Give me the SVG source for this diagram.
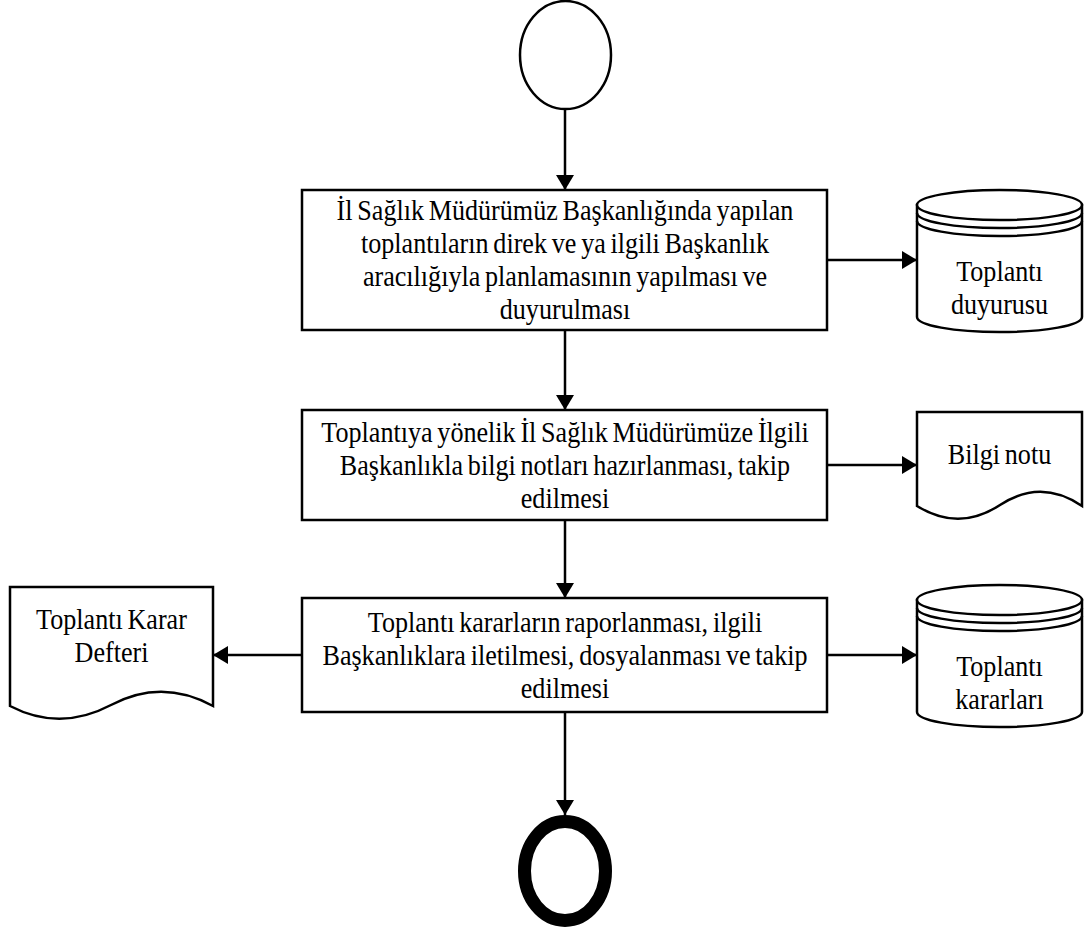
<svg xmlns="http://www.w3.org/2000/svg" width="1084" height="930" viewBox="0 0 1084 930">
<style>
.s{fill:#fff;stroke:#000;stroke-width:2.5}
.c{fill:none;stroke:#000;stroke-width:2.5}
.t{font-family:"Liberation Serif","Times New Roman",serif;font-size:30px;fill:#000;text-anchor:middle;word-spacing:-2px}
</style>
<defs>
<marker id="ah" viewBox="0 0 15 18" refX="15" refY="9" markerWidth="15" markerHeight="18" markerUnits="userSpaceOnUse" orient="auto">
<path d="M0,0 L15,9 L0,18 Z" fill="#000"/>
</marker>
</defs>
<rect width="1084" height="930" fill="#fff"/>
<g id="connectors" class="c" marker-end="url(#ah)">
<line x1="565" y1="109" x2="565" y2="190"/>
<line x1="565" y1="330" x2="565" y2="410"/>
<line x1="565" y1="520" x2="565" y2="598"/>
<line x1="565" y1="712" x2="565" y2="815"/>
<line x1="827" y1="260" x2="917" y2="260"/>
<line x1="827" y1="465" x2="917" y2="465"/>
<line x1="827" y1="655" x2="917" y2="655"/>
<line x1="302" y1="655" x2="213" y2="655"/>
</g>
<g id="start"><ellipse class="s" cx="565.5" cy="55" rx="45.5" ry="54"/></g>
<g id="box1">
<rect class="s" x="302" y="190" width="525" height="140"/>
<text class="t" transform="translate(565,220) scale(0.87,1)">İl Sağlık Müdürümüz Başkanlığında yapılan</text>
<text class="t" transform="translate(565,253) scale(0.87,1)">toplantıların direk ve ya ilgili Başkanlık</text>
<text class="t" transform="translate(565,286) scale(0.87,1)">aracılığıyla planlamasının yapılması ve</text>
<text class="t" transform="translate(565,319) scale(0.87,1)">duyurulması</text>
</g>
<g id="db1">
<path class="s" d="M917,205 V317 A82.5,15 0 0 0 1082,317 V205 Z"/>
<ellipse class="s" cx="999.5" cy="205" rx="82.5" ry="15"/>
<path class="c" d="M917,213 A82.5,15 0 0 0 1082,213 M917,221 A82.5,15 0 0 0 1082,221"/>
<text class="t" transform="translate(999.5,281) scale(0.87,1)">Toplantı</text>
<text class="t" transform="translate(999.5,314) scale(0.87,1)">duyurusu</text>
</g>
<g id="box2">
<rect class="s" x="302" y="410" width="525" height="110"/>
<text class="t" transform="translate(565,442) scale(0.87,1)">Toplantıya yönelik İl Sağlık Müdürümüze İlgili</text>
<text class="t" transform="translate(565,475) scale(0.87,1)">Başkanlıkla bilgi notları hazırlanması, takip</text>
<text class="t" transform="translate(565,508) scale(0.87,1)">edilmesi</text>
</g>
<g id="doc1">
<path class="s" d="M917,412 H1082 V506 Q1041,478 1000,505 T917,506 Z"/>
<text class="t" transform="translate(999.5,464) scale(0.87,1)">Bilgi notu</text>
</g>
<g id="box3">
<rect class="s" x="302" y="598" width="525" height="114"/>
<text class="t" transform="translate(565,632) scale(0.87,1)">Toplantı kararların raporlanması, ilgili</text>
<text class="t" transform="translate(565,665) scale(0.87,1)">Başkanlıklara iletilmesi, dosyalanması ve takip</text>
<text class="t" transform="translate(565,698) scale(0.87,1)">edilmesi</text>
</g>
<g id="doc2">
<path class="s" d="M10,587 H213 V706 Q162,678 111,705 T10,706 Z"/>
<text class="t" transform="translate(111.5,629) scale(0.87,1)">Toplantı Karar</text>
<text class="t" transform="translate(111.5,662) scale(0.87,1)">Defteri</text>
</g>
<g id="db2">
<path class="s" d="M917,600 V712 A82.5,15 0 0 0 1082,712 V600 Z"/>
<ellipse class="s" cx="999.5" cy="600" rx="82.5" ry="15"/>
<path class="c" d="M917,608 A82.5,15 0 0 0 1082,608 M917,616 A82.5,15 0 0 0 1082,616"/>
<text class="t" transform="translate(999.5,676) scale(0.87,1)">Toplantı</text>
<text class="t" transform="translate(999.5,709) scale(0.87,1)">kararları</text>
</g>
<g id="end"><ellipse cx="565" cy="871" rx="40.5" ry="49.5" fill="#fff" stroke="#000" stroke-width="13"/></g>
</svg>
